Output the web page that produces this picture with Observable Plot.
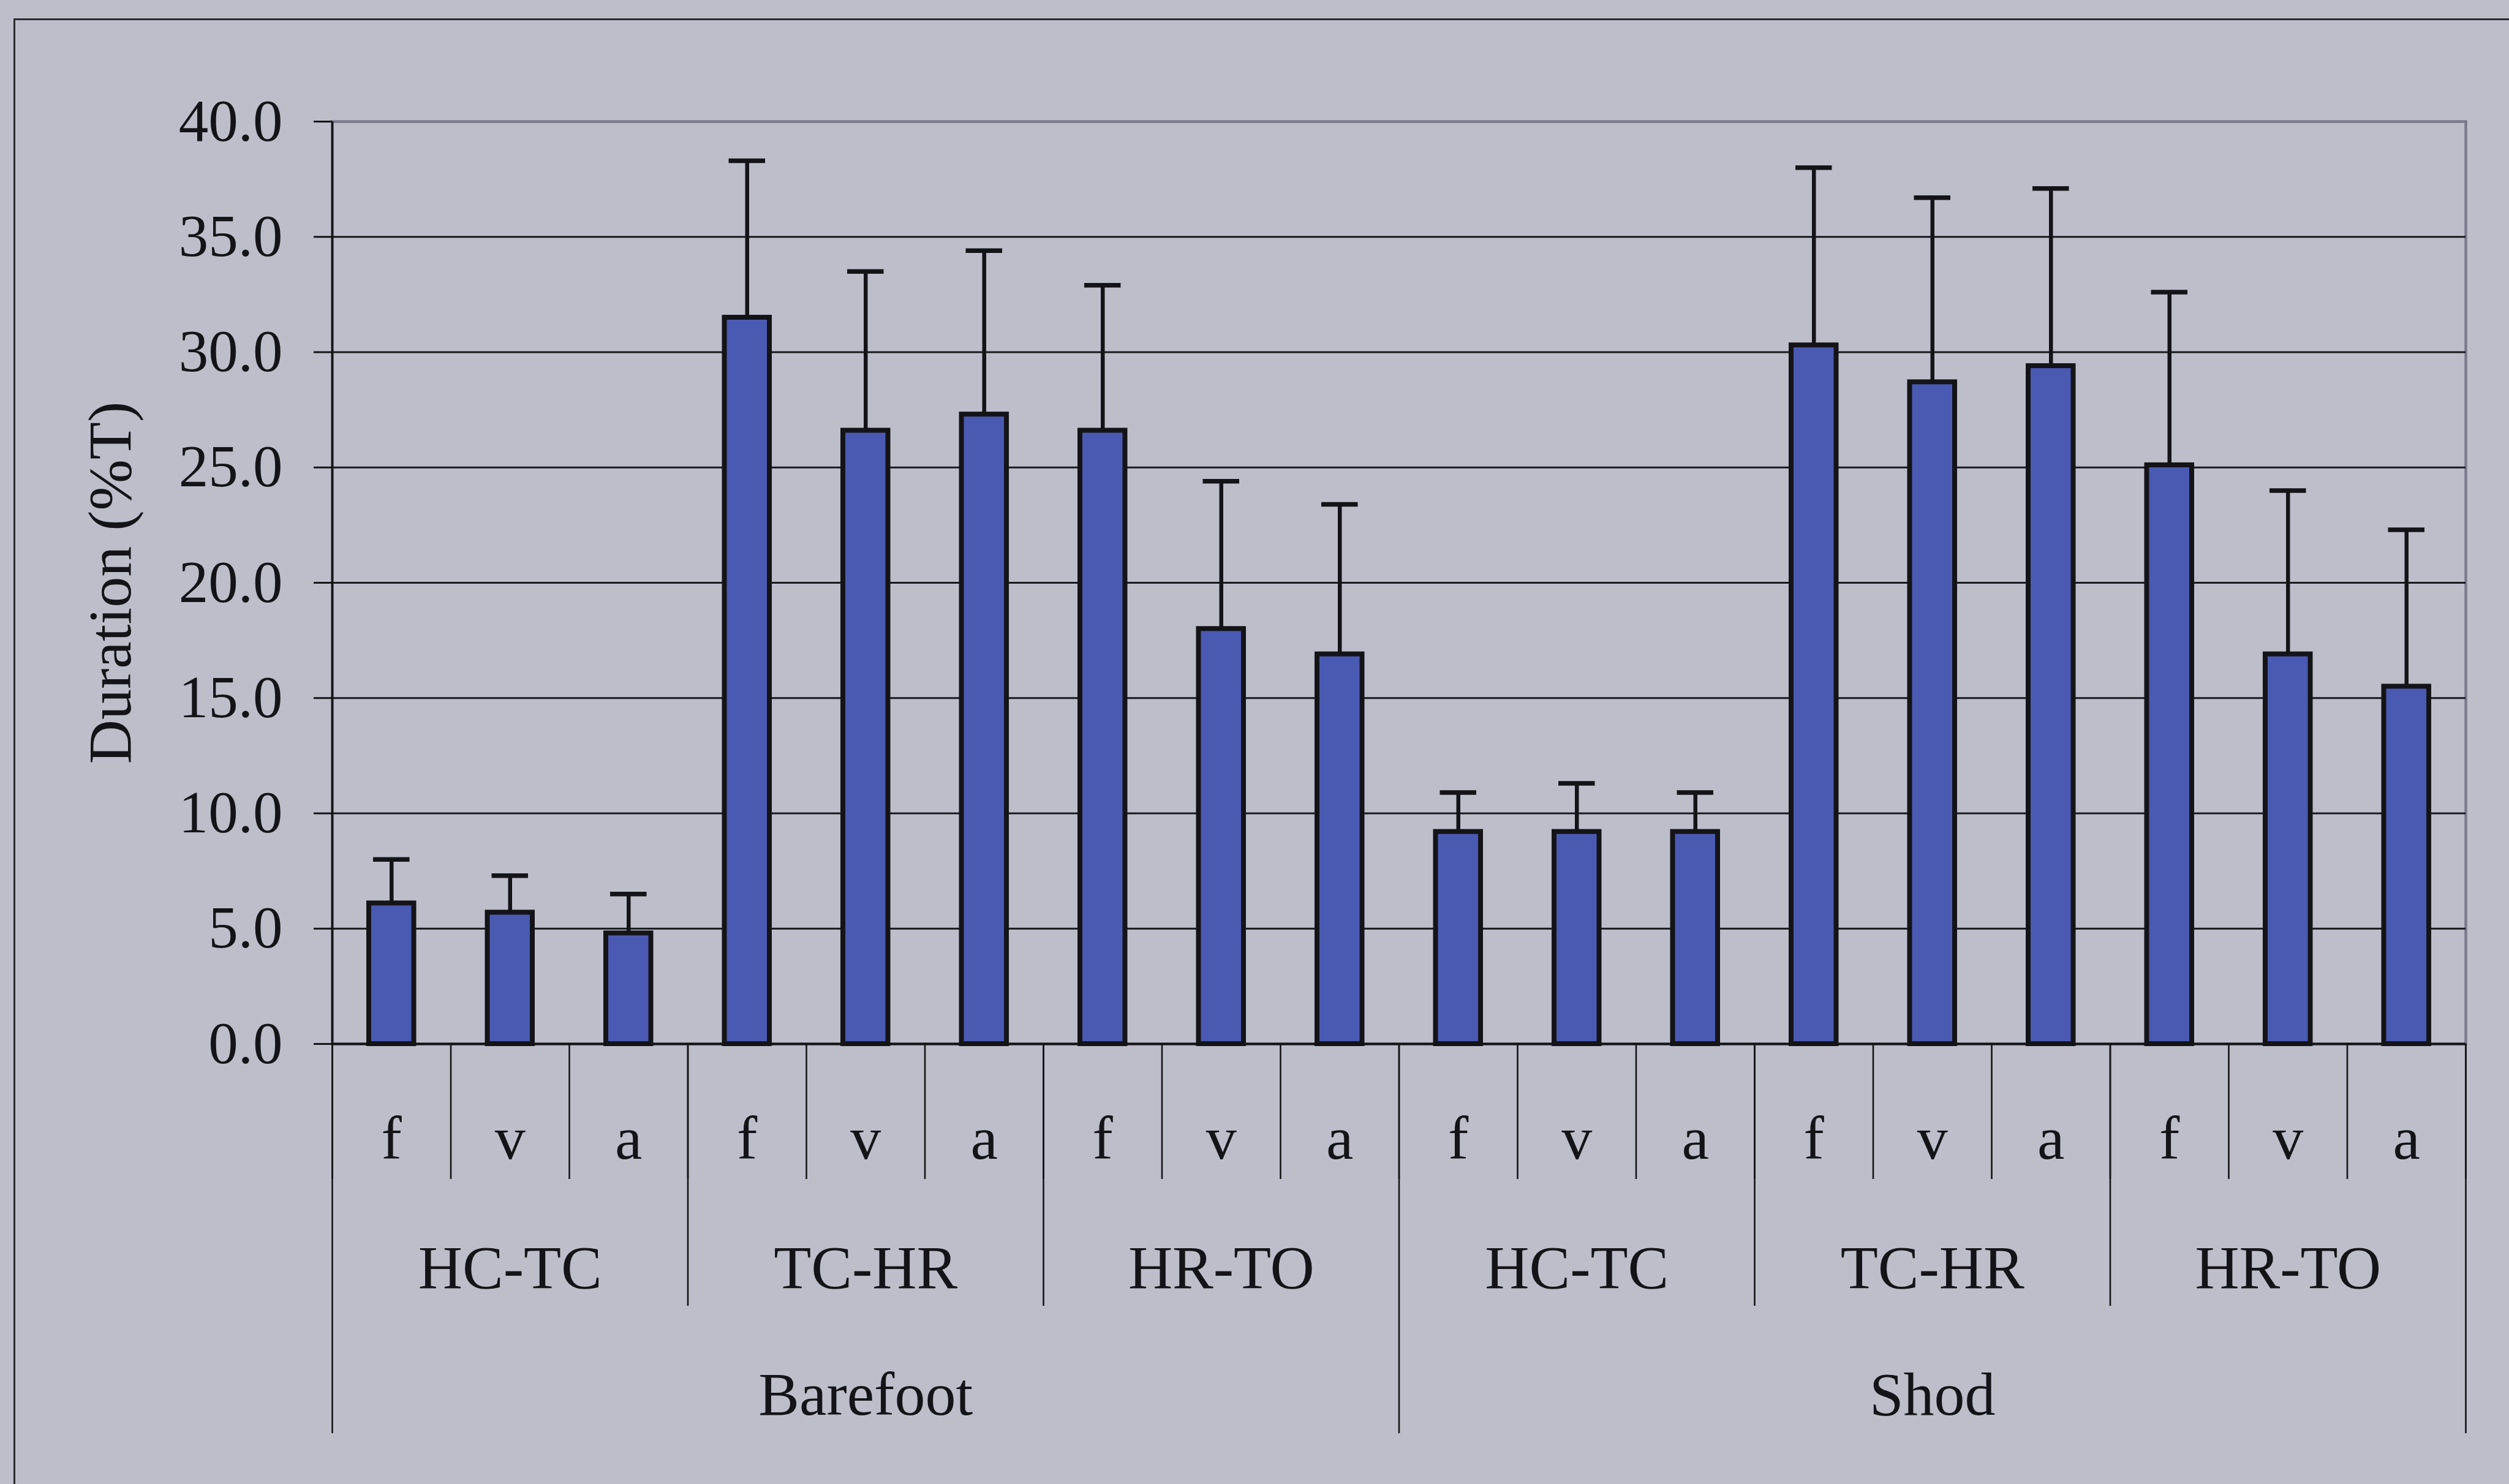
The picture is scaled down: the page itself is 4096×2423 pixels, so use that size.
<!DOCTYPE html>
<html>
<head>
<meta charset="utf-8">
<script src="https://cdn.jsdelivr.net/npm/d3@7"></script>
<script src="https://cdn.jsdelivr.net/npm/@observablehq/plot@0.6"></script>
<style>
  html, body { margin: 0; padding: 0; background: #bebecb; overflow: hidden; }
  #wrap { position: relative; width: 4096px; height: 2423px; }
  #outer { position: absolute; left: 22px; top: 30px; width: 5000px; height: 3000px;
           border-left: 3px solid #2a2a30; border-top: 3px solid #2a2a30; }
  #chart { position: absolute; left: 0; top: 0; }
</style>
</head>
<body>
<div id="wrap"><div id="outer"></div><div id="chart"></div></div>
<script>
// ---- data ----
const conditions = ["Barefoot", "Shod"];
const phases = ["HC-TC", "TC-HR", "HR-TO"];
const muscles = ["f", "v", "a"];
const means = [6.1, 5.7, 4.8, 31.5, 26.6, 27.3, 26.6, 18.0, 16.9,
               9.2, 9.2, 9.2, 30.3, 28.7, 29.4, 25.1, 16.9, 15.5];
const sds   = [1.9, 1.6, 1.7, 6.8, 6.9, 7.1, 6.3, 6.4, 6.5,
               1.7, 2.1, 1.7, 7.7, 8.0, 7.7, 7.5, 7.1, 6.8];
const yTicks = [0, 5, 10, 15, 20, 25, 30, 35, 40];

const rows = means.map((m, i) => ({
  i,
  muscle: muscles[i % 3],
  phase: phases[Math.floor(i / 3) % 3],
  cond: conditions[Math.floor(i / 9)],
  mean: m,
  sd: sds[i]
}));
const n = rows.length;
const bounds = d3.range(0, n + 1);
const groupBounds = bounds.filter(b => b % 3 === 0 && b % 9 !== 0);
const condBounds = bounds.filter(b => b % 9 === 0);
const phaseRows = rows.filter(r => r.i % 3 === 1);
const condRows = rows.filter(r => r.i % 9 === 4);

const ink = "#141418";
const font = "'Liberation Serif', 'Times New Roman', serif";

const chart = Plot.plot({
  width: 4096,
  height: 2423,
  marginLeft: 542,
  marginRight: 71,
  marginTop: 198,
  marginBottom: 719,
  x: {type: "linear", domain: [0, n], axis: null},
  y: {domain: [0, 40], axis: null},
  style: {background: "transparent", fontFamily: font, color: ink},
  marks: [
    Plot.frame({stroke: "#7a7a8c", strokeWidth: 4.5}),
    Plot.ruleY(yTicks.filter(t => t > 0 && t < 40), {stroke: "#18181f", strokeWidth: 2.8}),
    Plot.rect(rows, {x1: "i", x2: d => d.i + 1, y1: 0, y2: "mean",
      insetLeft: 60, insetRight: 60, fill: "#4a5ab3", stroke: ink, strokeWidth: 8}),
    Plot.ruleX(rows, {x: d => d.i + 0.5, y1: "mean", y2: d => d.mean + d.sd,
      stroke: ink, strokeWidth: 6.5}),
    Plot.ruleY(rows, {x1: "i", x2: d => d.i + 1, y: d => d.mean + d.sd,
      insetLeft: 67, insetRight: 67, stroke: ink, strokeWidth: 7.5}),
    Plot.ruleY([0], {stroke: ink, strokeWidth: 4}),
    Plot.ruleX([0], {y1: 0, y2: 40, stroke: ink, strokeWidth: 3.5}),
    Plot.axisY({ticks: yTicks, tickFormat: d3.format(".1f"), tickSize: 30, tickPadding: 51,
      fontSize: 97, stroke: ink, strokeWidth: 3, label: null}),
    Plot.text(["Duration (%T)"], {frameAnchor: "left", textAnchor: "middle", dx: -362, rotate: -90,
      fontSize: 100, fill: ink}),
    // multi-level category axis
    Plot.ruleX(bounds, {x: d => d, y1: 0, y2: 0, insetBottom: -221, stroke: ink, strokeWidth: 2.6}),
    Plot.ruleX(groupBounds, {x: d => d, y1: 0, y2: 0, insetBottom: -428, stroke: ink, strokeWidth: 2.6}),
    Plot.ruleX(condBounds, {x: d => d, y1: 0, y2: 0, insetBottom: -636, stroke: ink, strokeWidth: 2.6}),
    Plot.text(rows, {x: d => d.i + 0.5, y: 0, dy: 155, text: "muscle", fontSize: 100, fill: ink}),
    Plot.text(phaseRows, {x: d => d.i + 0.5, y: 0, dy: 366, text: "phase", fontSize: 100, fill: ink}),
    Plot.text(condRows, {x: d => d.i + 0.5, y: 0, dy: 573, text: "cond", fontSize: 100, fill: ink})
  ]
});
document.getElementById("chart").appendChild(chart);
</script>
</body>
</html>
